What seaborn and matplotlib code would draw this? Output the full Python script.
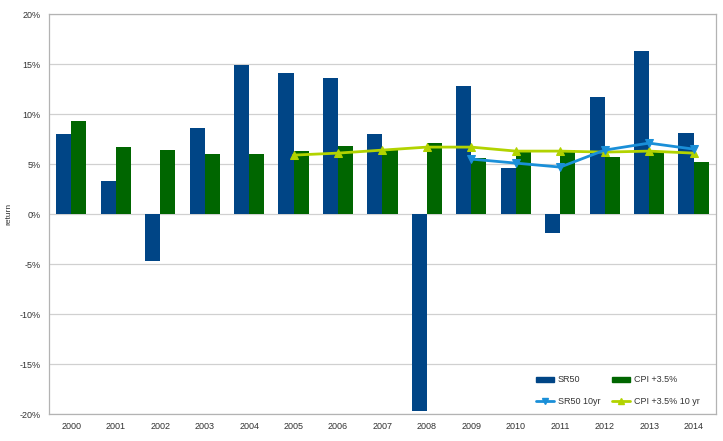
import numpy as np
import pandas as pd
import matplotlib
matplotlib.use("Agg")
import matplotlib.pyplot as plt
import matplotlib.ticker as mticker
from matplotlib.patches import Patch
from matplotlib.lines import Line2D
import seaborn as sns

# Data (annual returns, %)
years = [2000, 2001, 2002, 2003, 2004, 2005, 2006, 2007,
         2008, 2009, 2010, 2011, 2012, 2013, 2014]
sr50 = [8.0, 3.3, -4.7, 8.6, 14.9, 14.1, 13.6, 8.0,
        -19.7, 12.8, 4.6, -1.9, 11.7, 16.3, 8.1]
cpi = [9.3, 6.7, 6.4, 6.0, 6.0, 6.3, 6.8, 6.4,
       7.1, 5.6, 6.2, 6.4, 5.7, 6.2, 5.2]

# rolling 10 year figures
cpi10_years = [2005, 2006, 2007, 2008, 2009, 2010, 2011, 2012, 2013, 2014]
cpi10 = [5.9, 6.1, 6.4, 6.7, 6.7, 6.3, 6.3, 6.2, 6.3, 6.1]
sr10_years = [2009, 2010, 2011, 2012, 2013, 2014]
sr10 = [5.5, 5.1, 4.7, 6.4, 7.1, 6.5]

c_sr50 = "#004586"
c_cpi = "#006600"
c_sr10 = "#1a8fd8"
c_cpi10 = "#b2d300"

sns.set_style("white")
plt.rcParams['font.family'] = ['Liberation Sans', 'DejaVu Sans']

df = pd.DataFrame({
    'year': [str(y) for y in years] * 2,
    'value': sr50 + cpi,
    'series': ['SR50'] * len(years) + ['CPI +3.5%'] * len(years),
})

fig = plt.figure(figsize=(7.23, 4.41), dpi=100)
ax = fig.add_axes([0.068, 0.061, 0.922, 0.907])

ax.set_axisbelow(True)
ax.yaxis.grid(True, color="#d0d0d0", linewidth=0.9)

sns.barplot(data=df, x='year', y='value', hue='series',
            palette=[c_sr50, c_cpi], saturation=1, width=0.68, gap=0,
            linewidth=0, ax=ax, legend=False)

# line series at category positions
pos = {y: i for i, y in enumerate(years)}
sns.lineplot(x=[pos[y] for y in cpi10_years], y=cpi10, color=c_cpi10,
             marker='^', markersize=6, markeredgecolor=c_cpi10,
             linewidth=2, ax=ax)
sns.lineplot(x=[pos[y] for y in sr10_years], y=sr10, color=c_sr10,
             marker='v', markersize=6, markeredgecolor=c_sr10,
             linewidth=2, ax=ax)

ax.set_xlim(-0.5, len(years) - 0.5)
ax.set_ylim(-20, 20)
ax.yaxis.set_major_locator(mticker.MultipleLocator(5))
ax.yaxis.set_major_formatter(mticker.FuncFormatter(lambda v, p: f"{v:.0f}%"))

ax.set_xlabel("")
ax.set_ylabel("return", fontsize=6, color="#333333")
ax.yaxis.set_label_coords(-0.055, 0.5)

ax.tick_params(axis='both', labelsize=6.5, colors="#333333", length=0, pad=6)
ax.set_xticks(np.arange(-0.5, len(years), 1), minor=True)
ax.tick_params(axis='x', which='minor', length=4, color="#b3b3b3")

for s in ax.spines.values():
    s.set_color("#b3b3b3")
    s.set_linewidth(0.9)

handles = [
    Patch(color=c_sr50, label='SR50'),
    Line2D([], [], color=c_sr10, marker='v', markersize=4, linewidth=2, label='SR50 10yr'),
    Patch(color=c_cpi, label='CPI +3.5%'),
    Line2D([], [], color=c_cpi10, marker='^', markersize=4, linewidth=2, label='CPI +3.5% 10 yr'),
]
ax.legend(handles=handles, ncol=2, frameon=False, fontsize=6.5,
          loc='lower right', bbox_to_anchor=(0.988, 0.0),
          handlelength=2.0, handleheight=0.5, handletextpad=0.4,
          columnspacing=1.3, labelspacing=1.4, labelcolor="#333333")

fig.savefig("out.png", dpi=100)
